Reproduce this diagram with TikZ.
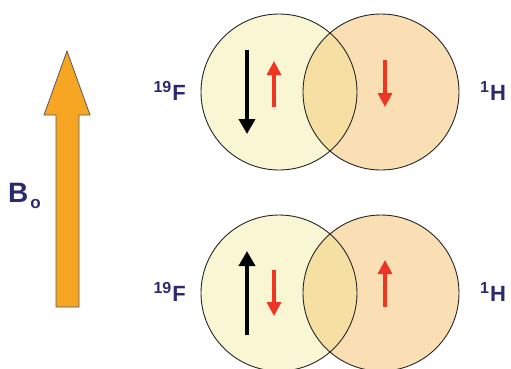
\documentclass[tikz,border=0pt]{standalone}
\usepackage{fontspec}
\setmainfont{Liberation Sans}
\usetikzlibrary{arrows.meta}
\definecolor{navy}{HTML}{2B2A6E}
\definecolor{fyel}{HTML}{F8F6D3}
\definecolor{hpea}{HTML}{FADFB4}
\definecolor{ovl}{HTML}{F6DFA2}
\definecolor{redar}{HTML}{EE3524}
\definecolor{bigor}{HTML}{F6A623}
\tikzset{
  lbl/.style={text=navy, font=\bfseries\fontsize{22}{22}\selectfont, inner sep=0pt},
  spin/.style={line width=3.6pt, -{Triangle[width=16pt,length=15pt]}},
  redspin/.style={line width=3.2pt, redar, -{Triangle[width=14pt,length=14pt]}},
  ring/.style={draw=black!85, line width=0.9pt}
}
\newcommand{\iso}[2]{\raisebox{8pt}{\fontsize{16}{16}\selectfont #1}\hspace{1pt}#2}
\begin{document}
\begin{tikzpicture}[x=1pt,y=-1pt]
\useasboundingbox (0,0) rectangle (511,368);
% big B0 arrow
\fill[bigor, draw=black!65, line width=0.8pt]
  (67,51) -- (90,115) -- (79,115) -- (79,307) -- (56,307) -- (56,115) -- (44,115) -- cycle;
\node[lbl, font=\bfseries\fontsize{28}{28}\selectfont, anchor=base west] (B) at (8,202) {B\hspace{2pt}\raisebox{-6pt}{\fontsize{17}{17}\selectfont o}};
% pairs
\foreach \cy in {92,293}{
  \fill[fyel] (279,\cy) circle (78);
  \fill[hpea] (381,\cy) circle (78);
  \begin{scope}
    \clip (279,\cy) circle (78);
    \fill[ovl] (381,\cy) circle (78);
  \end{scope}
  \draw[ring] (279,\cy) circle (78);
  \draw[ring] (381,\cy) circle (78);
}
% labels
\node[lbl, anchor=base east] (Ftop) at (186,100) {\iso{19}{F}};
\node[lbl, anchor=base west] (Htop) at (480,100) {\iso{1}{H}};
\node[lbl, anchor=base east] (Fbot) at (186,301) {\iso{19}{F}};
\node[lbl, anchor=base west] (Hbot) at (480,301) {\iso{1}{H}};
% top arrows
\draw[spin] (247,50) -- (247,134);
\draw[redspin] (274,107) -- (274,61);
\draw[redspin] (385,60) -- (385,107);
% bottom arrows
\draw[spin] (247,335) -- (247,251);
\draw[redspin] (274,270) -- (274,316);
\draw[redspin] (385,307) -- (385,260);
\end{tikzpicture}
\end{document}
